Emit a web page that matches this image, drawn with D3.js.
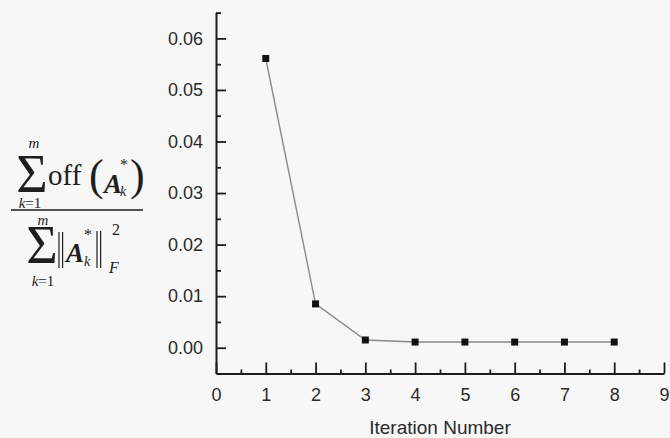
<!DOCTYPE html>
<html><head><meta charset="utf-8">
<script src="https://cdn.jsdelivr.net/npm/d3@7"></script>
<style>body{margin:0;background:#f7f7f7} svg{display:block}</style>
</head><body>
<svg id="chart" width="670" height="438"></svg>
<script>
const iterations = [1, 2, 3, 4, 5, 6, 7, 8];
const ratioValues = [0.0561, 0.0085, 0.0015, 0.0011, 0.0011, 0.0011, 0.0011, 0.0011];
const xTickValues = [0, 1, 2, 3, 4, 5, 6, 7, 8, 9];
const xMinorTicks = [0.5, 1.5, 2.5, 3.5, 4.5, 5.5, 6.5, 7.5, 8.5];
const yTickValues = [0, 0.01, 0.02, 0.03, 0.04, 0.05, 0.06];
const yMinorTicks = [0.005, 0.015, 0.025, 0.035, 0.045, 0.055, 0.065];
const xTitle = "Iteration Number";

const svg = d3.select("#chart");
svg.append("rect").attr("width", 670).attr("height", 438).attr("fill", "#f7f7f7");

const x = d3.scaleLinear().domain([0, 9]).range([216, 664]);
const y = d3.scaleLinear().domain([-0.005, 0.065]).range([373.5, 12.6]);

const font = "'Liberation Sans', Arial, sans-serif";
const axisColor = "#1c1c1c";
const textColor = "#2a2a2a";

// Y axis (major)
svg.append("g").attr("transform", "translate(216,0)")
  .call(d3.axisLeft(y).tickValues(yTickValues).tickFormat(d3.format(".2f"))
    .tickSizeInner(-10).tickSizeOuter(0).tickPadding(13));
// Y minor
const yMinor = svg.append("g").attr("transform", "translate(216,0)")
  .call(d3.axisLeft(y).tickValues(yMinorTicks).tickFormat("").tickSizeInner(-5).tickSizeOuter(0));
yMinor.select(".domain").remove();

// X axis
svg.append("g").attr("transform", "translate(0,373.5)")
  .call(d3.axisBottom(x).tickValues(xTickValues).tickFormat(d3.format("d"))
    .tickSizeInner(-11).tickSizeOuter(0).tickPadding(15));
const xMinor = svg.append("g").attr("transform", "translate(0,373.5)")
  .call(d3.axisBottom(x).tickValues(xMinorTicks).tickFormat("").tickSizeInner(-4).tickSizeOuter(0));
xMinor.select(".domain").remove();

svg.selectAll(".domain").attr("stroke", axisColor).attr("stroke-width", 2);
svg.selectAll(".tick line").attr("stroke", axisColor).attr("stroke-width", 1.8);
svg.selectAll(".tick text").attr("font-family", font).attr("font-size", 18).attr("fill", textColor);

// X title
svg.append("text").attr("x", 440).attr("y", 434).attr("text-anchor", "middle")
  .attr("font-family", font).attr("font-size", 19).attr("fill", textColor).text(xTitle);

// Line + markers
const line = d3.line().x((d, i) => x(iterations[i])).y(d => y(d));
svg.append("path").datum(ratioValues).attr("d", line)
  .attr("fill", "none").attr("stroke", "#8a8a8a").attr("stroke-width", 1.4);
svg.selectAll("rect.pt").data(ratioValues).enter().append("rect").attr("class", "pt")
  .attr("x", (d, i) => x(iterations[i]) - 3.5).attr("y", d => y(d) - 3.5)
  .attr("width", 7).attr("height", 7).attr("fill", "#111");

// Y-axis label formula
const serif = "'Liberation Serif', 'Times New Roman', serif";
const ink = "#1e1e1e";
const f = svg.append("g").attr("font-family", serif).attr("fill", ink);
function t(txt, px, py, size, opts = {}) {
  const e = f.append("text").attr("x", px).attr("y", py).attr("font-size", size).text(txt);
  if (opts.italic) e.attr("font-style", "italic");
  if (opts.bold) e.attr("font-weight", "bold");
  if (opts.anchor) e.attr("text-anchor", opts.anchor);
  return e;
}
function limits(px, py) {
  const e = f.append("text").attr("x", px).attr("y", py).attr("font-size", 15).attr("text-anchor", "middle");
  e.append("tspan").attr("font-style", "italic").text("k");
  e.append("tspan").text("=1");
}
function bars(px, y1, y2) {
  [0, 3.6].forEach(o => f.append("line").attr("x1", px + o).attr("x2", px + o)
    .attr("y1", y1).attr("y2", y2).attr("stroke", ink).attr("stroke-width", 1.2));
}
// numerator
t("\u03A3", 32, 192, 54, {anchor: "middle"});
t("m", 34, 148, 15, {italic: true, anchor: "middle"});
limits(30, 208);
t("off", 48, 185, 29);
t("(", 89, 190, 44);
t("A", 104, 193, 27, {italic: true, bold: true});
t("k", 120, 196, 14, {italic: true});
t("*", 120, 170, 16);
t(")", 130, 190, 44);
// fraction bar
f.append("line").attr("x1", 11).attr("x2", 143).attr("y1", 210).attr("y2", 210)
  .attr("stroke", ink).attr("stroke-width", 1.4);
// denominator
t("\u03A3", 42, 263, 54, {anchor: "middle"});
t("m", 43, 225, 15, {italic: true, anchor: "middle"});
limits(43, 286);
bars(59, 232, 268);
t("A", 66, 262, 27, {italic: true, bold: true});
t("k", 84, 266, 14, {italic: true});
t("*", 84, 240, 16);
bars(97, 231, 268);
t("2", 112, 235, 16);
t("F", 109, 273, 16, {italic: true});
</script>
</body></html>
